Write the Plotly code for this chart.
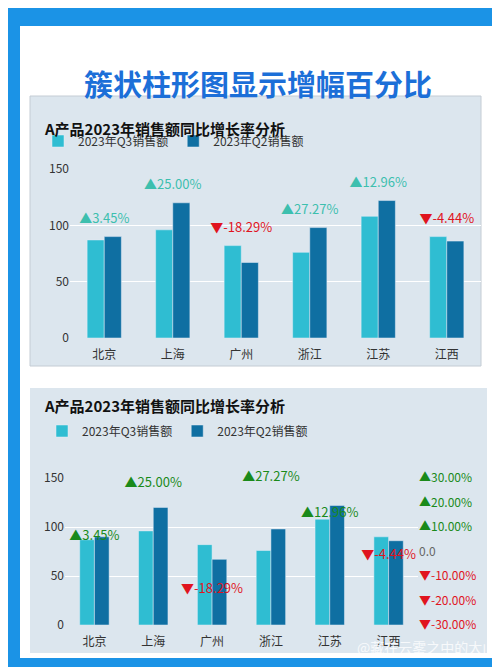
import plotly.graph_objects as go
from plotly.subplots import make_subplots

# Data
cities = ["北京", "上海", "广州", "浙江", "江苏", "江西"]
q3_sales = [87, 96, 82, 76, 108, 90]
q2_sales = [90, 120, 67, 98, 122, 86]
growth = [0.0345, 0.25, -0.1829, 0.2727, 0.1296, -0.0444]
pct_ticks = [-0.3, -0.2, -0.1, 0, 0.1, 0.2, 0.3]

W, H = 500, 667
FONT = "Noto Sans CJK SC"
LIGHT = "#2fbdd2"
DARK = "#0f6fa2"


def px(x0, y0, x1, y1):
    return dict(x0=x0 / W, x1=x1 / W, y0=1 - y1 / H, y1=1 - y0 / H)


def label(g):
    return ("▲" if g >= 0 else "▼") + f"{g * 100:.2f}%"


def tick_label(v):
    if v == 0:
        return '<span style="color:#666">0.0</span>'
    c = "#1a8a1a" if v > 0 else "#e0141e"
    return f'<span style="color:{c}">{label(v)}</span>'


labels = [label(g) for g in growth]
label_y = [max(a, b) + 15 for a, b in zip(q3_sales, q2_sales)]

fig = make_subplots(rows=2, cols=1, specs=[[{}], [{"secondary_y": True}]])

# Chart 1
fig.add_trace(go.Bar(x=cities, y=q3_sales, name="2023年Q3销售额", marker_color=LIGHT, legend="legend"), row=1, col=1)
fig.add_trace(go.Bar(x=cities, y=q2_sales, name="2023年Q2销售额", marker_color=DARK, legend="legend"), row=1, col=1)
fig.add_trace(go.Scatter(
    x=cities, y=label_y, mode="text", text=labels, showlegend=False, cliponaxis=False,
    textfont=dict(size=13, color=["#3dbfae" if g >= 0 else "#e0141e" for g in growth])), row=1, col=1)

# Chart 2
fig.add_trace(go.Bar(x=cities, y=q3_sales, name="2023年Q3销售额", marker_color=LIGHT, legend="legend2"), row=2, col=1)
fig.add_trace(go.Bar(x=cities, y=q2_sales, name="2023年Q2销售额", marker_color=DARK, legend="legend2"), row=2, col=1)
fig.add_trace(go.Scatter(
    x=cities, y=growth, mode="text", text=labels, textposition="top center", showlegend=False, cliponaxis=False,
    textfont=dict(size=13, color=["#1a8a1a" if g >= 0 else "#e0141e" for g in growth])),
    row=2, col=1, secondary_y=True)

shapes = [
    dict(type="rect", xref="paper", yref="paper", **px(12, 18, 488, 650), fillcolor="white", line_width=0, layer="below"),
    dict(type="rect", xref="paper", yref="paper", **px(22, 88, 473, 358), fillcolor="#dce6ee", line=dict(color="#c4ccd4", width=1), layer="below"),
    dict(type="rect", xref="paper", yref="paper", **px(22, 380, 479, 645), fillcolor="#dce6ee", line_width=0, layer="below"),
]

annotations = [
    dict(text="<b>簇状柱形图显示增幅百分比</b>", x=0.5, y=1 - 52 / H, xref="paper", yref="paper",
         showarrow=False, font=dict(size=29, color="#1c6fd8")),
    dict(text="<b>A产品2023年销售额同比增长率分析</b>", x=34 / W, y=1 - 108 / H, xref="paper", yref="paper",
         xanchor="left", showarrow=False, font=dict(size=15, color="#111")),
    dict(text="<b>A产品2023年销售额同比增长率分析</b>", x=34 / W, y=1 - 398 / H, xref="paper", yref="paper",
         xanchor="left", showarrow=False, font=dict(size=15, color="#111")),
    dict(text="@藏在云雾之中的大山", x=490 / W, y=1 - 651 / H, xref="paper", yref="paper",
         xanchor="right", showarrow=False, font=dict(size=14, color="rgba(255,255,255,0.8)")),
]

axis_font = dict(size=12, color="#333")
cat_axis = dict(tickfont=axis_font, ticks="outside", ticklen=6, tickcolor="rgba(0,0,0,0)")
fig.update_layout(
    width=W, height=H, margin=dict(l=0, r=0, t=0, b=0, autoexpand=False),
    paper_bgcolor="#1b93e6", plot_bgcolor="rgba(0,0,0,0)",
    font=dict(family=FONT, color="#333"),
    barmode="group", bargap=0.5, bargroupgap=0,
    shapes=shapes, annotations=annotations,
    legend=dict(orientation="h", x=30 / W, y=1 - 133 / H, xanchor="left", yanchor="middle",
                bgcolor="rgba(0,0,0,0)", font=dict(size=12), itemwidth=30, traceorder="normal"),
    legend2=dict(orientation="h", x=34 / W, y=1 - 423 / H, xanchor="left", yanchor="middle",
                 bgcolor="rgba(0,0,0,0)", font=dict(size=12), itemwidth=30, traceorder="normal"),
    xaxis=dict(domain=[62 / W, 473 / W], **cat_axis),
    yaxis=dict(domain=[1 - 330 / H, 1 - 161 / H], range=[0, 150], tickvals=[0, 50, 100, 150],
               gridcolor="white", tickfont=axis_font, zeroline=False),
    xaxis2=dict(domain=[57 / W, 410 / W], **cat_axis),
    yaxis2=dict(domain=[1 - 617 / H, 1 - 470 / H], range=[0, 150], tickvals=[0, 50, 100, 150],
                gridcolor="white", tickfont=axis_font, zeroline=False),
    yaxis3=dict(range=[-0.3, 0.3], tickvals=pct_ticks, ticktext=[tick_label(v) for v in pct_ticks],
                showgrid=False, zeroline=False, tickfont=dict(size=12)),
)

fig.write_html("out.html")
